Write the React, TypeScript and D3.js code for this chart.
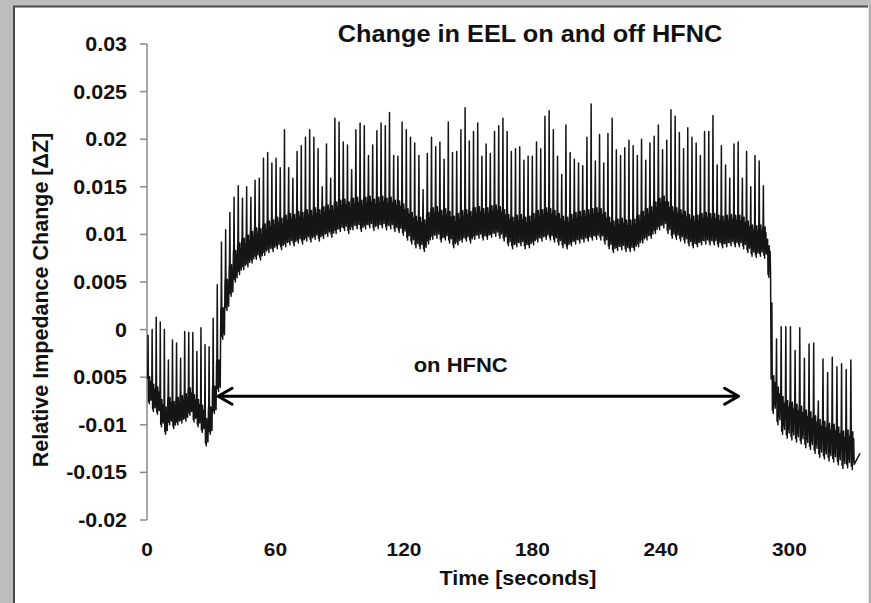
import React from 'react';
import * as d3 from 'd3';

const W = 871;
const H = 603;

// Axis ticks as printed in the reference
const yTickValues = [0.03, 0.025, 0.02, 0.015, 0.01, 0.005, 0, -0.005, -0.01, -0.015, -0.02];
const yTickLabels = ['0.03', '0.025', '0.02', '0.015', '0.01', '0.005', '0', '0.005', '-0.01', '-0.015', '-0.02'];
const xTickValues = [0, 60, 120, 180, 240, 300];
const xTickLabels = ['0', '60', '120', '180', '240', '300'];

// Breath-by-breath peak and trough values (relative impedance)
const prePeaks = [-0.0006, 0.0, 0.0013, 0.0008, 0.0, -0.0032, -0.0011, -0.0014, -0.003, -0.0002, -0.0003, -0.0003, -0.0023, 0.0002, -0.0016, -0.0018, 0.0012];
const preTroughs = [-0.0078, -0.0086, -0.0089, -0.0102, -0.011, -0.01, -0.0104, -0.01, -0.0098, -0.0096, -0.009, -0.0097, -0.0102, -0.0108, -0.0122, -0.011, -0.0088];

const onPeaks = [
  0.0047, 0.0092, 0.0105, 0.0123, 0.0139, 0.0151, 0.0138, 0.015, 0.0139, 0.0157,
  0.0159, 0.018, 0.0186, 0.0175, 0.018, 0.017, 0.021, 0.017, 0.0159, 0.0187,
  0.0193, 0.0202, 0.021, 0.0202, 0.019, 0.015, 0.0195, 0.0159, 0.0222, 0.0218,
  0.0197, 0.0194, 0.0168, 0.021, 0.0217, 0.0214, 0.0183, 0.0194, 0.0209, 0.0217,
  0.0214, 0.0228, 0.0183, 0.0182, 0.0218, 0.021, 0.0202, 0.0196, 0.0183, 0.0147,
  0.0185, 0.0202, 0.0192, 0.0197,
  0.0179, 0.0218, 0.0186, 0.0187, 0.021, 0.0233, 0.0198, 0.0208, 0.0217, 0.0182,
  0.0195, 0.0185, 0.0208, 0.0214, 0.0222, 0.0208, 0.0187, 0.019, 0.0192, 0.0178,
  0.0182, 0.0182, 0.0197, 0.019, 0.0224, 0.023, 0.021, 0.0182, 0.0163, 0.0215,
  0.0186, 0.0179, 0.0175, 0.0172, 0.0202, 0.0237, 0.0177, 0.0205, 0.0175, 0.0206,
  0.0222, 0.0189, 0.0183, 0.0191, 0.0199, 0.0193, 0.0183, 0.02, 0.0178, 0.0196,
  0.0203, 0.0215, 0.0189, 0.0199, 0.0231, 0.0224, 0.0207, 0.019, 0.0212, 0.0202,
  0.0196, 0.0183, 0.0208, 0.0208, 0.0225, 0.0173, 0.0193, 0.0173, 0.0159, 0.0195,
  0.0197, 0.0159, 0.0187, 0.015, 0.0183, 0.0177, 0.0151, 0.0095,
];
const onTroughs = [
  -0.0065, -0.001, 0.002, 0.0035, 0.005, 0.0058, 0.0063, 0.0066, 0.007, 0.0074,
  0.0073, 0.0078, 0.0081, 0.0082, 0.0085, 0.0084, 0.0087, 0.0089, 0.0088, 0.0091,
  0.009, 0.0093, 0.0092, 0.0095, 0.0093, 0.0096, 0.0098, 0.0097, 0.0101, 0.0103,
  0.0104, 0.0101, 0.0105, 0.0106, 0.0103, 0.0106, 0.0107, 0.0104, 0.0106, 0.0107,
  0.0105, 0.0106, 0.0103, 0.0102, 0.0099, 0.0094, 0.009, 0.0086, 0.0085, 0.0082,
  0.009, 0.0095, 0.0096, 0.0092,
  0.0094, 0.0091, 0.0086, 0.0089, 0.0092, 0.0093, 0.0091, 0.0095, 0.0096, 0.0094,
  0.0095, 0.0097, 0.0098, 0.0096, 0.0093, 0.0088, 0.0085, 0.0087, 0.0088, 0.0085,
  0.0086, 0.0089, 0.0092, 0.0093, 0.0095, 0.0094, 0.0092, 0.0089, 0.0086, 0.0085,
  0.0088, 0.009, 0.0091, 0.0092, 0.0093, 0.0094, 0.0095, 0.0094, 0.009, 0.0085,
  0.0081, 0.0083, 0.0084, 0.0082, 0.0082, 0.0083, 0.0087, 0.0091, 0.0094, 0.0096,
  0.0101, 0.0105, 0.0107, 0.0101, 0.0096, 0.0095, 0.0093, 0.0091, 0.0088, 0.0086,
  0.0087, 0.0089, 0.009, 0.0089, 0.0089, 0.0087, 0.0086, 0.0087, 0.0088, 0.0087,
  0.0087, 0.0085, 0.0081, 0.0077, 0.0076, 0.0077, 0.0075, 0.0055,
];

const postPeaks = [0.0028, -0.001, 0.0003, 0.0003, 0.0003, -0.0022, 0.0002, -0.003, -0.0015, -0.0014, -0.0075, -0.0031, -0.0045, -0.0029, -0.0039, -0.0036, -0.0042, -0.0032];
const postTroughs = [-0.0088, -0.01, -0.011, -0.0114, -0.0116, -0.0118, -0.012, -0.0124, -0.0126, -0.013, -0.0134, -0.0136, -0.0138, -0.0139, -0.0142, -0.0146, -0.0145, -0.0147];

// Section timing: [start (s), breath period (s)]
const preTiming = [0.2, 1.9];
const onTiming = [32.5, 1.962];
const postTiming = [291.5, 2.17];
const tailPoint = [333, -0.013];

// Annotation
const arrowStart = [33.2, -0.007];
const arrowEnd = [276.3, -0.007];
const arrowLabel = 'on HFNC';
const arrowLabelPos = [146.5, -0.0045];

const title = 'Change in EEL on and off HFNC';
const xTitle = 'Time [seconds]';
const yTitle = 'Relative Impedance Change [ΔZ]';

const FONT = "'Liberation Sans', Arial, sans-serif";
const SX = 1.1;

function breathPoints(timing: number[], peaks: number[], troughs: number[], depth: number): [number, number][] {
  const [start, period] = timing;
  const pts: [number, number][] = [];
  peaks.forEach((p, i) => {
    const t = start + i * period;
    const q = troughs[i];
    const b = q + depth;
    pts.push([t, b]);
    pts.push([t + 0.07 * period, b + 0.15 * depth]);
    pts.push([t + 0.16 * period, p]);
    pts.push([t + 0.27 * period, q + 0.1 * depth]);
    pts.push([t + 0.36 * period, b - 0.05 * depth]);
    pts.push([t + 0.46 * period, q]);
    pts.push([t + 0.56 * period, b + 0.1 * depth]);
    pts.push([t + 0.66 * period, q + 0.25 * depth]);
    pts.push([t + 0.76 * period, b - 0.1 * depth]);
    pts.push([t + 0.87 * period, q + 0.15 * depth]);
  });
  return pts;
}

export default function App() {
  const x = d3.scaleLinear().domain([0, 333]).range([147, 860]);
  const y = d3.scaleLinear().domain([-0.02, 0.03]).range([520, 44]);

  const pts = [
    ...breathPoints(preTiming, prePeaks, preTroughs, 0.0026),
    ...breathPoints(onTiming, onPeaks, onTroughs, 0.003),
    ...breathPoints(postTiming, postPeaks, postTroughs, 0.0036),
    tailPoint as [number, number],
  ];
  const line = d3
    .line<[number, number]>()
    .x((d) => x(d[0]))
    .y((d) => y(d[1]));

  const ax1 = x(arrowStart[0]);
  const ax2 = x(arrowEnd[0]);
  const ay = y(arrowStart[1]);

  return (
    <svg
      width={W}
      height={H}
      style={{ position: 'absolute', left: 0, top: 0, display: 'block' }}
      fontFamily={FONT}
    >
      <rect x={0} y={0} width={W} height={H} fill="#bdbdbd" />
      <rect x={13} y={6} width={W - 15} height={H - 6} fill="#ffffff" />
      <line x1={14} y1={6} x2={14} y2={H} stroke="#4a4a4a" strokeWidth={2} />
      <line x1={13} y1={6.5} x2={868} y2={6.5} stroke="#4a4a4a" strokeWidth={2} />
      <line x1={869.5} y1={6} x2={869.5} y2={H} stroke="#a8a8a8" strokeWidth={1.5} />

      {/* Title */}
      <text
        transform={`translate(530, 42) scale(${SX},1)`}
        textAnchor="middle"
        fontWeight="bold"
        fontSize={23}
        fill="#111"
      >
        {title}
      </text>

      {/* Y axis */}
      <line x1={147} y1={y(0.03)} x2={147} y2={y(-0.02)} stroke="#8a8a8a" strokeWidth={1.5} />
      {yTickValues.map((v, i) => (
        <g key={'yt' + i}>
          <line x1={140} x2={147} y1={y(v)} y2={y(v)} stroke="#8a8a8a" strokeWidth={1.5} />
          <text
            transform={`translate(127, ${y(v) + 7}) scale(${SX},1)`}
            textAnchor="end"
            fontWeight="bold"
            fontSize={19.5}
            fill="#111"
          >
            {yTickLabels[i]}
          </text>
        </g>
      ))}

      {/* X tick labels */}
      {xTickValues.map((v, i) => (
        <text
          key={'xt' + i}
          transform={`translate(${x(v)}, 556) scale(${SX},1)`}
          textAnchor="middle"
          fontWeight="bold"
          fontSize={19}
          fill="#111"
        >
          {xTickLabels[i]}
        </text>
      ))}

      <text
        transform={`translate(518, 585) scale(${SX},1)`}
        textAnchor="middle"
        fontWeight="bold"
        fontSize={19.5}
        fill="#111"
      >
        {xTitle}
      </text>

      <text
        transform={`translate(48, 300) rotate(-90)`}
        textAnchor="middle"
        fontWeight="bold"
        fontSize={21.5}
        fill="#111"
      >
        {yTitle}
      </text>

      {/* Trace */}
      <path d={line(pts) || ''} fill="none" stroke="#151515" strokeWidth={1.5} strokeLinejoin="round" />

      {/* Arrow annotation */}
      <g stroke="#000" strokeWidth={3} fill="none" strokeLinecap="round" strokeLinejoin="round">
        <line x1={ax1 + 1} y1={ay} x2={ax2 - 1} y2={ay} />
        <polyline points={`${ax1 + 14},${ay - 8} ${ax1},${ay} ${ax1 + 14},${ay + 8}`} />
        <polyline points={`${ax2 - 14},${ay - 8} ${ax2},${ay} ${ax2 - 14},${ay + 8}`} />
      </g>
      <text
        transform={`translate(${x(arrowLabelPos[0])}, ${y(arrowLabelPos[1])}) scale(${SX},1)`}
        textAnchor="middle"
        fontWeight="bold"
        fontSize={20}
        fill="#111"
      >
        {arrowLabel}
      </text>
    </svg>
  );
}
